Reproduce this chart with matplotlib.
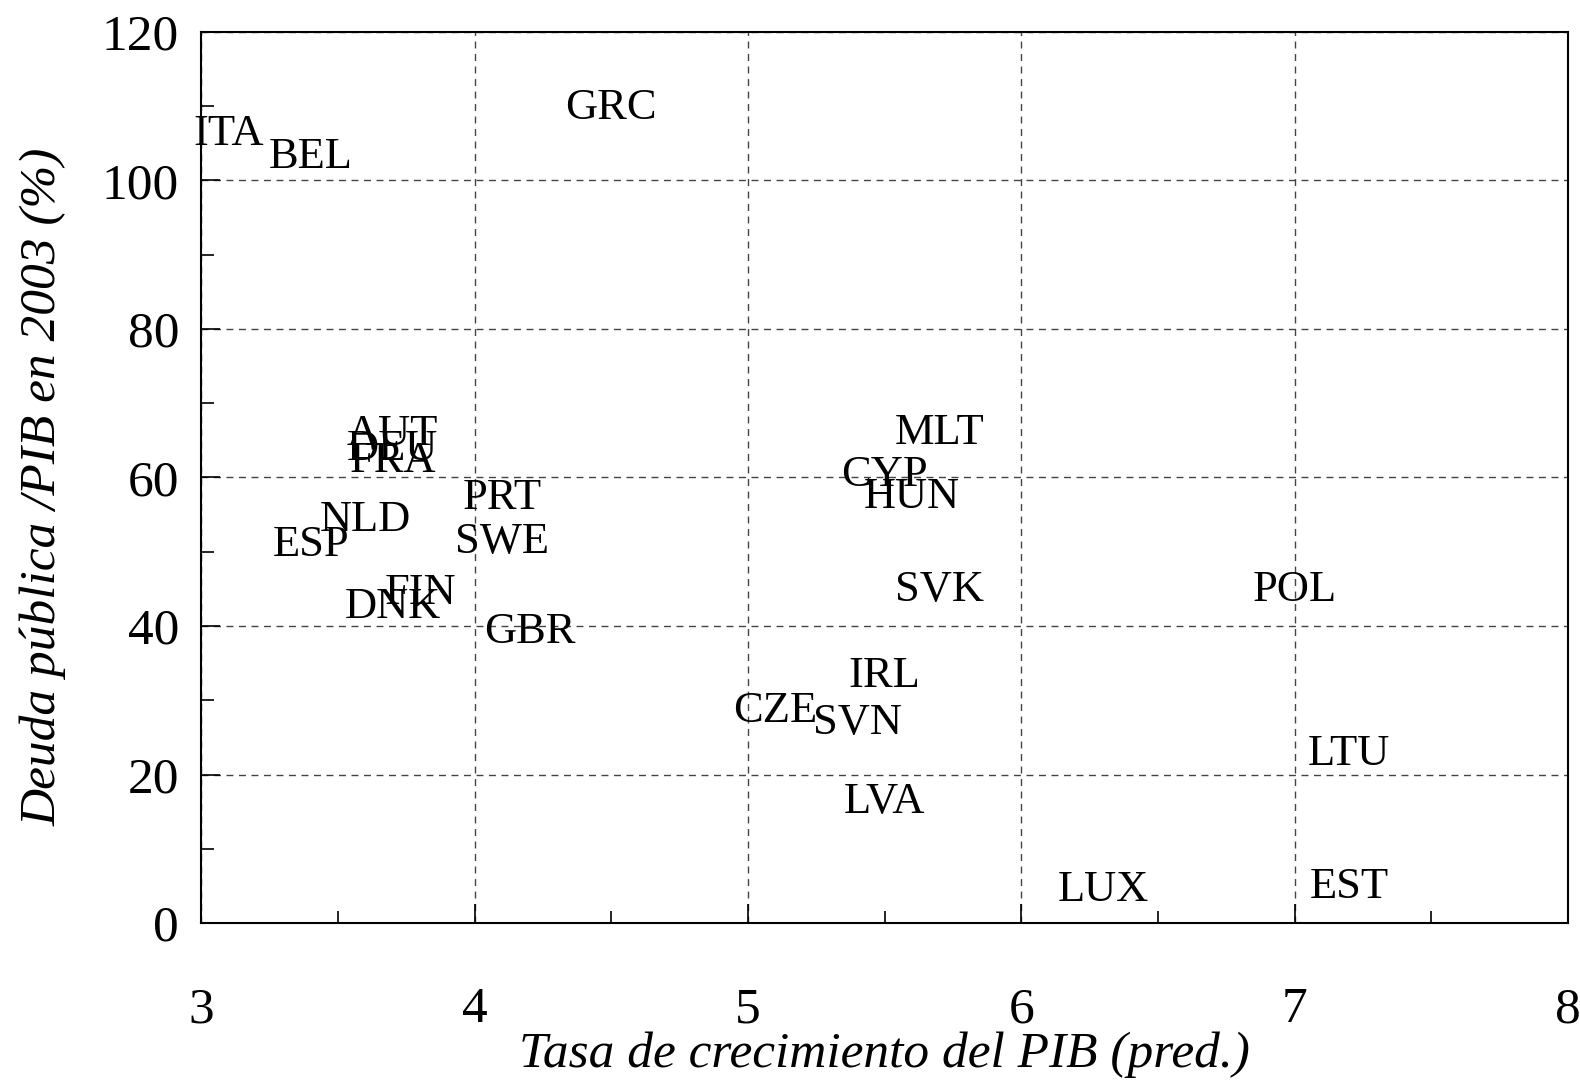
import matplotlib
matplotlib.use("Agg")
import matplotlib.pyplot as plt
from matplotlib.ticker import MultipleLocator

# Datos: tasa de crecimiento del PIB (pred.) y deuda publica/PIB 2003
paises = ["ITA", "BEL", "GRC", "AUT", "DEU", "FRA", "PRT", "NLD", "ESP", "SWE",
          "FIN", "DNK", "GBR", "MLT", "CYP", "HUN", "SVK", "POL", "IRL", "CZE",
          "SVN", "LTU", "LVA", "LUX", "EST"]
crecimiento = [3.1, 3.4, 4.5, 3.7, 3.7, 3.7, 4.1, 3.6, 3.4, 4.1,
               3.8, 3.7, 4.2, 5.7, 5.5, 5.6, 5.7, 7.0, 5.5, 5.1,
               5.4, 7.2, 5.5, 6.3, 7.2]
deuda = [106.3, 103.2, 109.8, 65.8, 63.9, 62.2, 57.3, 54.3, 50.9, 51.3,
         44.4, 42.5, 39.2, 66.0, 60.3, 57.4, 44.8, 44.8, 33.3, 28.6,
         27.0, 22.8, 16.3, 4.5, 4.9]

plt.rcParams['font.family'] = ['Liberation Serif', 'DejaVu Serif']

fig = plt.figure(figsize=(15.8, 10.83), dpi=100)
ax = fig.add_axes([0.1275, 0.1477, 0.8649, 0.8228])

for nombre, x, y in zip(paises, crecimiento, deuda):
    ax.text(x, y, nombre, fontsize=32, ha='center', va='center', color='black')

ax.set_xlim(3, 8)
ax.set_ylim(0, 120)
ax.xaxis.set_major_locator(MultipleLocator(1))
ax.xaxis.set_minor_locator(MultipleLocator(0.5))
ax.yaxis.set_major_locator(MultipleLocator(20))
ax.yaxis.set_minor_locator(MultipleLocator(10))

ax.grid(True, which='major', linestyle=(0, (5, 4)), color='#444444', linewidth=1)
ax.tick_params(which='major', direction='in', length=14, width=1.2, labelsize=37)
ax.tick_params(axis='x', which='major', pad=46)
ax.tick_params(axis='y', which='major', pad=16)
ax.tick_params(which='minor', direction='in', length=9, width=1.2)
for s in ax.spines.values():
    s.set_linewidth(1.5)

ax.set_xlabel('Tasa de crecimiento del PIB (pred.)', fontsize=37, style='italic', va='center')
ax.set_ylabel('Deuda pública /PIB en 2003 (%)', fontsize=37, style='italic', va='center')
ax.xaxis.set_label_coords(0.5, -0.148)
ax.yaxis.set_label_coords(-0.116, 0.49)

fig.savefig('out.png', dpi=100, facecolor='white')
